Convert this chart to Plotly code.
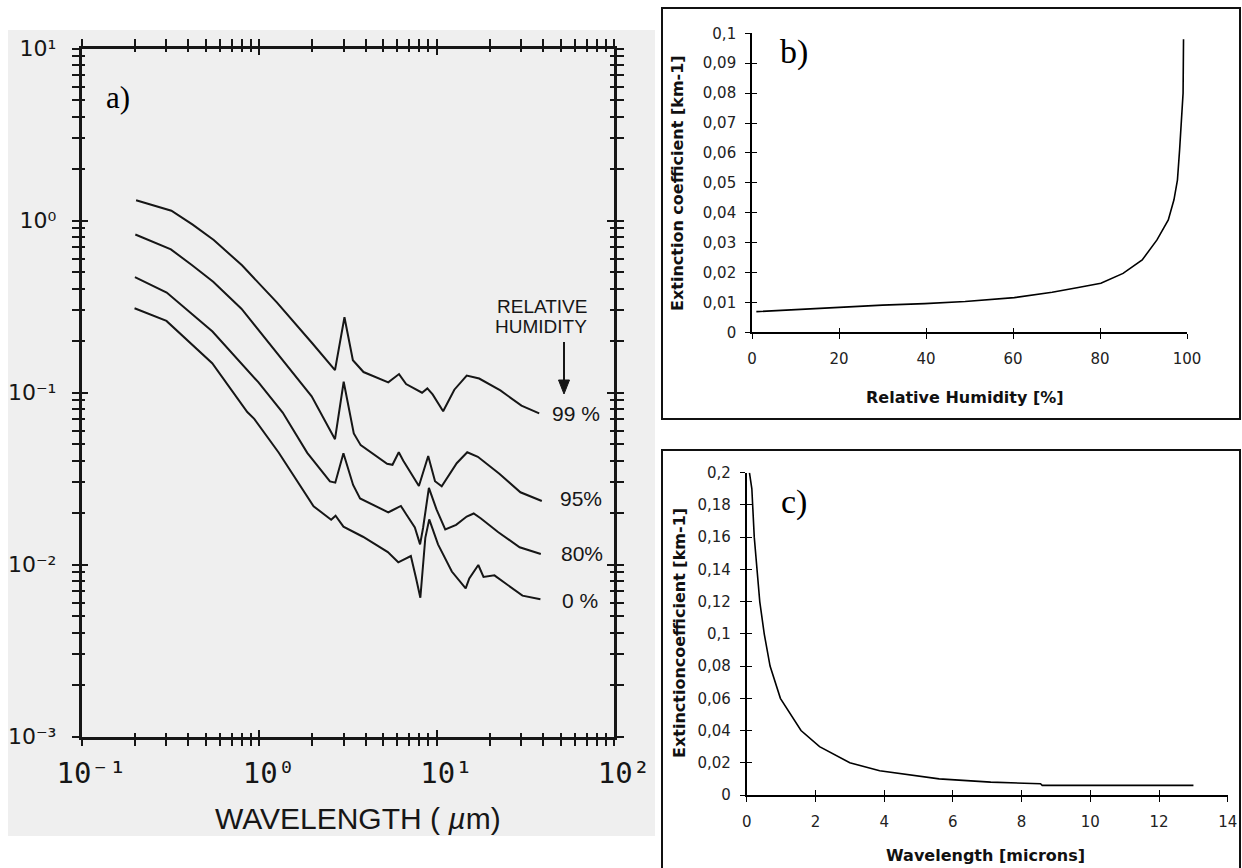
import plotly.graph_objects as go

W, H = 1242, 868

# ---------------- Panel a data (log-log, extinction vs wavelength) ----------------
wl_99 = [0.203, 0.321, 0.423, 0.556, 0.802, 1.26, 1.99, 2.68, 3.03, 3.38, 3.88, 5.35, 6.15, 6.74,
         8.29, 8.88, 9.51, 10.9, 12.6, 14.8, 17.4, 22.9, 30.1, 37.9]
ext_99 = [1.31, 1.14, 0.946, 0.770, 0.549, 0.334, 0.194, 0.135, 0.274, 0.154, 0.1315, 0.1146, 0.128, 0.112,
          0.0997, 0.1056, 0.0975, 0.0778, 0.1038, 0.1254, 0.1206, 0.1028, 0.0839, 0.0757]

wl_95 = [0.201, 0.319, 0.420, 0.552, 0.796, 1.25, 1.98, 2.68, 3.0, 3.42, 3.74, 5.27, 5.65, 6.13, 6.50,
         7.96, 8.98, 9.81, 10.7, 13.0, 14.9, 17.1, 22.6, 29.7, 39.2]
ext_95 = [0.829, 0.679, 0.549, 0.441, 0.307, 0.171, 0.0950, 0.0535, 0.1155, 0.0578, 0.0494, 0.0385, 0.0380,
          0.0449, 0.0401, 0.0286, 0.0427, 0.0305, 0.0285, 0.0388, 0.0449, 0.0423, 0.0337, 0.0263, 0.0234]

wl_80 = [0.200, 0.302, 0.547, 0.991, 1.36, 1.87, 2.51, 2.69, 2.99, 3.39, 3.71, 5.35, 5.61, 6.30, 6.75,
         7.55, 8.08, 8.40, 9.06, 10.0, 11.2, 12.9, 14.8, 16.2, 17.8, 22.3, 29.4, 38.7]
ext_80 = [0.468, 0.381, 0.226, 0.1148, 0.0765, 0.0446, 0.0304, 0.0299, 0.0443, 0.0290, 0.0242, 0.0201,
          0.0206, 0.0219, 0.0196, 0.0164, 0.0131, 0.0163, 0.0279, 0.0209, 0.0160, 0.0170, 0.0190, 0.0198,
          0.0185, 0.0154, 0.0126, 0.0115]

wl_0 = [0.199, 0.301, 0.545, 0.859, 0.940, 1.29, 2.03, 2.55, 2.70, 2.99, 3.85, 5.32, 6.09, 7.17, 7.66,
        8.11, 8.65, 9.10, 10.2, 12.2, 14.6, 15.3, 17.2, 18.4, 21.2, 25.4, 30.5, 38.5]
ext_0 = [0.309, 0.2608, 0.1479, 0.0770, 0.0703, 0.0448, 0.0218, 0.0182, 0.0192, 0.0166, 0.0145, 0.0118,
         0.0103, 0.0112, 0.00838, 0.00641, 0.0143, 0.0183, 0.0131, 0.0091, 0.00727, 0.0083, 0.00993,
         0.00847, 0.00865, 0.00755, 0.00659, 0.00628]

rh_labels = ["99 %", "95%", "80%", "0 %"]
a_xticks = [0.1, 1, 10, 100]
a_xticktext = ["10⁻¹", "10⁰", "10¹", "10²"]
a_yticks = [0.001, 0.01, 0.1, 1, 10]
a_yticktext = ["10⁻³", "10⁻²", "10⁻¹", "10⁰", "10¹"]

# ---------------- Panel b data ----------------
rh_b = [1, 12, 20.7, 30, 39.7, 49, 60.3, 69, 75, 80.2, 85.3, 89.7, 93.1, 95.7, 97, 97.8, 98.3, 98.7, 99.1, 99.2]
ext_b = [0.0069, 0.0077, 0.0085, 0.0091, 0.0096, 0.0103, 0.0116, 0.0134, 0.0150, 0.0164, 0.0197, 0.0242,
         0.0309, 0.0376, 0.0443, 0.0509, 0.061, 0.072, 0.080, 0.098]
b_xticks = [0, 20, 40, 60, 80, 100]
b_yticks = [0, 0.01, 0.02, 0.03, 0.04, 0.05, 0.06, 0.07, 0.08, 0.09, 0.1]
b_yticktext = ["0", "0,01", "0,02", "0,03", "0,04", "0,05", "0,06", "0,07", "0,08", "0,09", "0,1"]

# ---------------- Panel c data ----------------
wl_c = [0.08, 0.15, 0.22, 0.29, 0.38, 0.51, 0.68, 0.98, 1.58, 2.12, 3.0, 3.87, 5.6, 7.1, 8.55, 8.6, 13.0]
ext_c = [0.2, 0.19, 0.16, 0.14, 0.12, 0.10, 0.08, 0.06, 0.04, 0.03, 0.02, 0.015, 0.01, 0.008, 0.007, 0.006, 0.006]
c_xticks = [0, 2, 4, 6, 8, 10, 12, 14]
c_yticks = [0, 0.02, 0.04, 0.06, 0.08, 0.1, 0.12, 0.14, 0.16, 0.18, 0.2]
c_yticktext = ["0", "0,02", "0,04", "0,06", "0,08", "0,1", "0,12", "0,14", "0,16", "0,18", "0,2"]


def px(X):
    return X / W


def py(Y):
    return 1 - Y / H


INK = "#161616"
minor_x = [k * 10 ** e for e in (-1, 0, 1) for k in range(2, 10)]
minor_y = [k * 10 ** e for e in (-3, -2, -1, 0) for k in range(2, 10)]

fig = go.Figure()

for xs, ys in [(wl_99, ext_99), (wl_95, ext_95), (wl_80, ext_80), (wl_0, ext_0)]:
    fig.add_trace(go.Scatter(x=xs, y=ys, mode="lines", line=dict(color=INK, width=2),
                             xaxis="x", yaxis="y", showlegend=False, hoverinfo="skip"))
# invisible traces to bring overlay axes (inside ticks) to life
fig.add_trace(go.Scatter(x=wl_0, y=ext_0, mode="lines", opacity=0, xaxis="x4", yaxis="y",
                         showlegend=False, hoverinfo="skip"))
fig.add_trace(go.Scatter(x=wl_0, y=ext_0, mode="lines", opacity=0, xaxis="x", yaxis="y4",
                         showlegend=False, hoverinfo="skip"))

fig.add_trace(go.Scatter(x=rh_b, y=ext_b, mode="lines", line=dict(color="black", width=1.6),
                         xaxis="x2", yaxis="y2", showlegend=False, hoverinfo="skip"))
fig.add_trace(go.Scatter(x=rh_b, y=ext_b, mode="lines", opacity=0, xaxis="x5", yaxis="y2",
                         showlegend=False, hoverinfo="skip"))
fig.add_trace(go.Scatter(x=rh_b, y=ext_b, mode="lines", opacity=0, xaxis="x2", yaxis="y5",
                         showlegend=False, hoverinfo="skip"))

fig.add_trace(go.Scatter(x=wl_c, y=ext_c, mode="lines", line=dict(color="black", width=1.6),
                         xaxis="x3", yaxis="y3", showlegend=False, hoverinfo="skip"))
fig.add_trace(go.Scatter(x=wl_c, y=ext_c, mode="lines", opacity=0, xaxis="x6", yaxis="y3",
                         showlegend=False, hoverinfo="skip"))
fig.add_trace(go.Scatter(x=wl_c, y=ext_c, mode="lines", opacity=0, xaxis="x3", yaxis="y6",
                         showlegend=False, hoverinfo="skip"))

dom_ax = [px(81.5), px(614)]
dom_ay = [py(736.5), py(48.5)]
dom_bx = [px(752), px(1187)]
dom_by = [py(332.3), py(33.3)]
dom_cx = [px(746.7), px(1227.8)]
dom_cy = [py(795), py(472.7)]

common = dict(showgrid=False, zeroline=False, fixedrange=True, automargin=False)

a_line = dict(showline=True, linecolor=INK, linewidth=2.5, mirror="allticks", tickcolor=INK,
              tickwidth=2, ticklen=7)
b_line = dict(showline=True, linecolor="black", linewidth=1.6, tickcolor="black", tickwidth=1.4, ticklen=5)
tick_font_bc = dict(family="DejaVu Sans", size=15, color="#222")

fig.update_layout(
    template="none",
    width=W, height=H, autosize=False,
    margin=dict(l=0, r=0, t=0, b=0, pad=0, autoexpand=False),
    paper_bgcolor="white", plot_bgcolor="rgba(0,0,0,0)",
    showlegend=False,
    xaxis=dict(type="log", range=[-1, 2], domain=dom_ax, anchor="y", ticks="outside",
               tickmode="array", tickvals=a_xticks, ticktext=a_xticktext,
               tickfont=dict(family="DejaVu Sans Mono", size=29, color=INK), ticklabelstandoff=2,
               ticklabelshift=10,
               minor=dict(ticks="outside", ticklen=4, tickwidth=1.5, tickcolor=INK, tickvals=minor_x),
               **a_line, **common),
    xaxis4=dict(type="log", range=[-1, 2], overlaying="x", anchor="y", side="bottom", ticks="inside",
                tickmode="array", tickvals=a_xticks, showticklabels=False,
                minor=dict(ticks="inside", ticklen=4, tickwidth=1.5, tickcolor=INK, tickvals=minor_x),
                **a_line, **common),
    yaxis=dict(type="log", range=[-3, 1], domain=dom_ay, anchor="x", ticks="outside",
               tickmode="array", tickvals=a_yticks, ticktext=a_yticktext,
               tickfont=dict(family="DejaVu Sans", size=22, color=INK), ticklabelstandoff=11,
               minor=dict(ticks="outside", ticklen=4, tickwidth=1.5, tickcolor=INK, tickvals=minor_y),
               **a_line, **common),
    yaxis4=dict(type="log", range=[-3, 1], overlaying="y", anchor="x", side="left", ticks="inside",
                tickmode="array", tickvals=a_yticks, showticklabels=False,
                minor=dict(ticks="inside", ticklen=4, tickwidth=1.5, tickcolor=INK, tickvals=minor_y),
                **a_line, **common),
    # panel b
    xaxis2=dict(range=[0, 100], domain=dom_bx, anchor="y2", ticks="outside", tickmode="array",
                tickvals=b_xticks, tickfont=tick_font_bc, ticklabelstandoff=7, **b_line, **common),
    xaxis5=dict(range=[0, 100], overlaying="x2", anchor="y2", side="bottom", ticks="inside",
                tickmode="array", tickvals=b_xticks, showticklabels=False, **b_line, **common),
    yaxis2=dict(range=[0, 0.1], domain=dom_by, anchor="x2", ticks="outside", tickmode="array",
                tickvals=b_yticks, ticktext=b_yticktext, tickfont=tick_font_bc,
                ticklabelstandoff=6, **b_line, **common),
    yaxis5=dict(range=[0, 0.1], overlaying="y2", anchor="x2", side="left", ticks="inside",
                tickmode="array", tickvals=b_yticks, showticklabels=False, **b_line, **common),
    # panel c
    xaxis3=dict(range=[0, 14], domain=dom_cx, anchor="y3", ticks="outside", tickmode="array",
                tickvals=c_xticks, tickfont=tick_font_bc, ticklabelstandoff=7, **b_line, **common),
    xaxis6=dict(range=[0, 14], overlaying="x3", anchor="y3", side="bottom", ticks="inside",
                tickmode="array", tickvals=c_xticks, showticklabels=False, **b_line, **common),
    yaxis3=dict(range=[0, 0.2], domain=dom_cy, anchor="x3", ticks="outside", tickmode="array",
                tickvals=c_yticks, ticktext=c_yticktext, tickfont=tick_font_bc,
                ticklabelstandoff=6, **b_line, **common),
    yaxis6=dict(range=[0, 0.2], overlaying="y3", anchor="x3", side="left", ticks="inside",
                tickmode="array", tickvals=c_yticks, showticklabels=False, **b_line, **common),
)

shapes = [
    dict(type="rect", xref="paper", yref="paper", x0=px(8), x1=px(655), y0=py(836), y1=py(30),
         fillcolor="#efefef", line=dict(width=0), layer="below"),
    dict(type="rect", xref="paper", yref="paper", x0=px(662), x1=px(1240), y0=py(419), y1=py(8),
         fillcolor="rgba(0,0,0,0)", line=dict(color="#111", width=2), layer="below"),
    dict(type="rect", xref="paper", yref="paper", x0=px(662), x1=px(1240), y0=py(885), y1=py(450),
         fillcolor="rgba(0,0,0,0)", line=dict(color="#111", width=2), layer="below"),
    # "relative humidity" arrow: shaft and head
    dict(type="line", xref="paper", yref="paper", x0=px(564), x1=px(564), y0=py(342), y1=py(384),
         line=dict(color=INK, width=2)),
    dict(type="path", xref="paper", yref="paper",
         path=f"M {px(558.5)} {py(380)} L {px(569.5)} {py(380)} L {px(564)} {py(394)} Z",
         fillcolor=INK, line=dict(color=INK, width=1)),
]
fig.update_layout(shapes=shapes)


def ann(text, X, Y, size, family, color=INK, angle=0, **kw):
    d = dict(text=text, x=px(X), y=py(Y), xref="paper", yref="paper", showarrow=False,
             xanchor="center", yanchor="middle", textangle=angle,
             font=dict(family=family, size=size, color=color))
    d.update(kw)
    return d


annotations = [
    ann("a)", 118, 97, 31, "Liberation Serif", color="black"),
    ann("RELATIVE", 542, 307, 19, "Liberation Sans"),
    ann("HUMIDITY", 541, 327, 19, "Liberation Sans"),
    ann(rh_labels[0], 576, 413, 21, "Liberation Sans"),
    ann(rh_labels[1], 581, 498, 21, "Liberation Sans"),
    ann(rh_labels[2], 582, 553, 21, "Liberation Sans"),
    ann(rh_labels[3], 580, 600, 21, "Liberation Sans"),
    ann("WAVELENGTH ( <i>µ</i>m)", 358, 818, 30, "Liberation Sans"),
    # panel b
    ann("b)", 794, 52, 34, "Liberation Serif", color="black"),
    ann("<b>Extinction coefficient [km-1]</b>", 677, 183, 16, "DejaVu Sans", color="#111", angle=-90),
    ann("<b>Relative Humidity [%]</b>", 965, 397, 16, "DejaVu Sans", color="#111"),
    # panel c
    ann("c)", 794, 502, 34, "Liberation Serif", color="black"),
    ann("<b>Extinctioncoefficient [km-1]</b>", 679, 633, 16, "DejaVu Sans", color="#111", angle=-90),
    ann("<b>Wavelength [microns]</b>", 985, 855, 16, "DejaVu Sans", color="#111"),
]
fig.update_layout(annotations=annotations)

fig.write_html("out.html")
